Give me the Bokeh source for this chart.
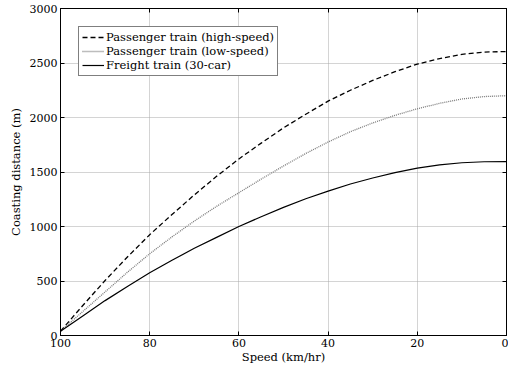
from bokeh.plotting import figure
from bokeh.models import Range1d, LinearAxis, Legend, LegendItem, FixedTicker
from bokeh.embed import file_html
from bokeh.resources import INLINE

speed = [100, 95, 90, 85, 80, 75, 70, 65, 60, 55, 50, 45, 40, 35, 30, 25, 20, 15, 10, 5, 0]
high_speed = [40, 275, 505, 720, 925, 1110, 1290, 1460, 1620, 1765, 1905, 2030, 2150, 2250,
              2340, 2420, 2490, 2540, 2580, 2600, 2605]
low_speed = [40, 220, 400, 580, 750, 905, 1050, 1185, 1310, 1435, 1555, 1670, 1775, 1870,
             1950, 2020, 2080, 2130, 2170, 2192, 2200]
freight = [40, 180, 320, 450, 575, 690, 800, 900, 1000, 1090, 1175, 1255, 1325, 1390,
           1445, 1495, 1535, 1565, 1585, 1594, 1596]

x_ticks = [100, 80, 60, 40, 20, 0]
y_ticks = [0, 500, 1000, 1500, 2000, 2500, 3000]
series_labels = ["Passenger train (high-speed)", "Passenger train (low-speed)",
                 "Freight train (30-car)"]

FONT = "DejaVu Serif"

p = figure(width=508, height=366, output_backend="svg", toolbar_location=None,
           x_range=Range1d(100, 0), y_range=Range1d(0, 3000))
p.min_border_left = 60
p.min_border_right = 2
p.min_border_top = 8
p.min_border_bottom = 28
p.outline_line_color = "black"
p.outline_line_width = 1
p.background_fill_color = "white"
p.border_fill_color = "white"

for ax in [p.xaxis[0], p.yaxis[0]]:
    ax.major_tick_in = 4
    ax.major_tick_out = 0
    ax.minor_tick_in = 0
    ax.minor_tick_out = 0
    ax.axis_line_color = "black"
    ax.major_tick_line_color = "black"
    ax.major_label_text_font = FONT
    ax.major_label_text_font_size = "11px"
    ax.major_label_text_color = "black"
    ax.axis_label_text_font = FONT
    ax.axis_label_text_font_size = "11.5px"
    ax.axis_label_text_font_style = "normal"
    ax.axis_label_text_color = "black"

p.xaxis[0].ticker = FixedTicker(ticks=x_ticks)
p.yaxis[0].ticker = FixedTicker(ticks=y_ticks)
p.xaxis[0].axis_label = "Speed (km/hr)"
p.yaxis[0].axis_label = "Coasting distance (m)"
p.xaxis[0].major_label_standoff = 3
p.xaxis[0].axis_label_standoff = 0
p.yaxis[0].major_label_standoff = 3
p.yaxis[0].axis_label_standoff = 4

top = LinearAxis(ticker=FixedTicker(ticks=x_ticks),
                 major_label_overrides={t: "" for t in x_ticks},
                 major_tick_in=4, major_tick_out=0, minor_tick_in=0, minor_tick_out=0,
                 axis_line_color="black", major_label_standoff=0)
right = LinearAxis(ticker=FixedTicker(ticks=y_ticks),
                   major_label_overrides={t: "" for t in y_ticks},
                   major_tick_in=4, major_tick_out=0, minor_tick_in=0, minor_tick_out=0,
                   axis_line_color="black", major_label_standoff=0)
p.add_layout(top, "above")
p.add_layout(right, "right")

for g in [p.xgrid[0], p.ygrid[0]]:
    g.grid_line_color = "#a8a8a8"
    g.grid_line_dash = "1 1"
    g.grid_line_width = 1
p.xgrid[0].ticker = FixedTicker(ticks=x_ticks)
p.ygrid[0].ticker = FixedTicker(ticks=y_ticks)

r1 = p.line(speed, high_speed, line_color="black", line_width=1.3, line_dash="5 3")
r2 = p.line(speed, low_speed, line_color="#7a7a7a", line_width=1.3, line_dash="1 1")
r3 = p.line(speed, freight, line_color="black", line_width=1.2)

legend = Legend(items=[
    LegendItem(label=series_labels[0], renderers=[r1]),
    LegendItem(label=series_labels[1], renderers=[r2]),
    LegendItem(label=series_labels[2], renderers=[r3]),
])
legend.location = "top_left"
legend.margin = 18
legend.padding = 3
legend.spacing = 0
legend.label_text_font = FONT
legend.label_text_font_size = "11.5px"
legend.label_text_color = "black"
legend.label_height = 14
legend.glyph_height = 14
legend.glyph_width = 22
legend.label_standoff = 2
legend.border_line_color = "black"
legend.border_line_width = 1
legend.background_fill_alpha = 1
p.add_layout(legend)

open("out.html", "w").write(file_html(p, INLINE))
